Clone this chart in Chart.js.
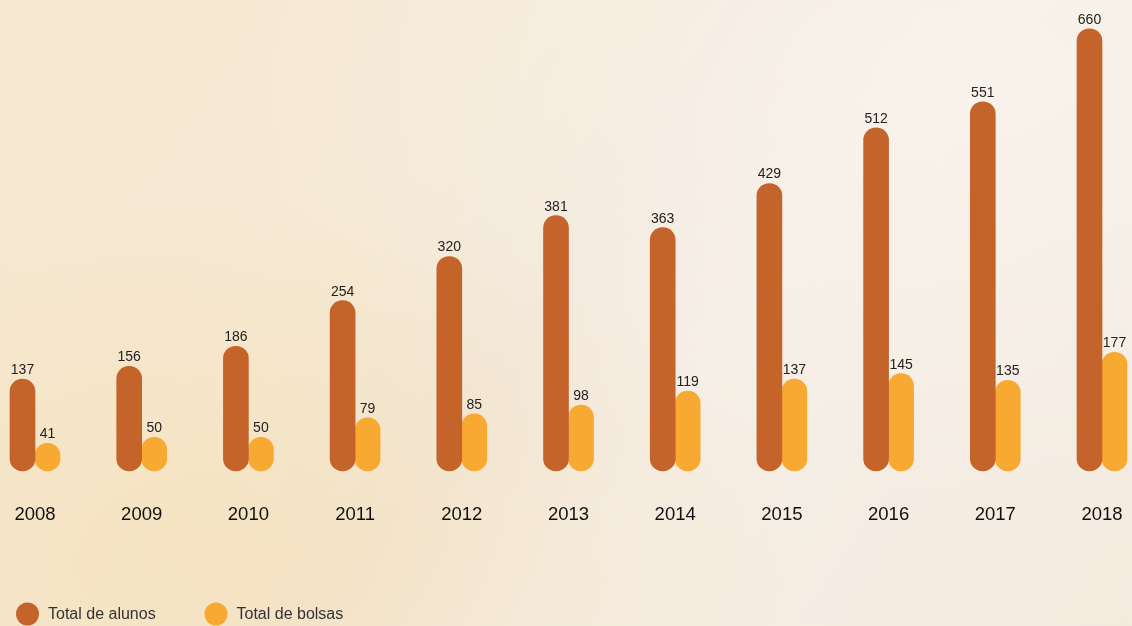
<!DOCTYPE html>
<html>
<head>
<meta charset="utf-8">
<script src="https://cdn.jsdelivr.net/npm/chart.js@4"></script>
<style>
html, body { margin:0; padding:0; }
body {
  width:1132px; height:626px; overflow:hidden;
  background:
    radial-gradient(ellipse at 20% 90%, rgba(246,218,160,0.4) 0%, rgba(246,218,160,0) 45%),
    radial-gradient(ellipse at 85% 12%, rgba(249,243,236,0.9) 0%, rgba(249,243,236,0) 55%),
    linear-gradient(125deg, #f5e8d0 0%, #f5e9d4 35%, #f2e7da 48%, #f5eee5 62%, #f4ebdf 100%);
}
canvas { display:block; }
</style>
</head>
<body>
<canvas id="chart" width="1132" height="626"></canvas>
<script>

// DATA

const years = ["2008","2009","2010","2011","2012","2013","2014","2015","2016","2017","2018"];
const totalAlunos = [137,156,186,254,320,381,363,429,512,551,660];
const totalBolsas = [41,50,50,79,85,98,119,137,145,135,177];

const darkOrange = "#c4642a";
const lightOrange = "#f8a932";
const fontFamily = "'Liberation Sans', Arial, sans-serif";


// value labels above each bar

const valueLabels = {
  id: "valueLabels",
  afterDatasetsDraw(chart) {
    const ctx = chart.ctx;
    ctx.save();
    ctx.font = "14px " + fontFamily;
    ctx.fillStyle = "#222";
    ctx.textAlign = "center";
    ctx.textBaseline = "alphabetic";
    chart.data.datasets.forEach((ds, i) => {
      chart.getDatasetMeta(i).data.forEach((bar, j) => {
        ctx.fillText(ds.data[j], bar.x, bar.y - 5);
      });
    });
    ctx.restore();
  }
};


// legend with big round markers, bottom left

const roundLegend = {
  id: "roundLegend",
  afterDraw(chart) {
    const ctx = chart.ctx;
    const xs = [27.5, 216];
    ctx.save();
    ctx.font = "16px " + fontFamily;
    ctx.textBaseline = "middle";
    ctx.textAlign = "left";
    chart.data.datasets.forEach((ds, i) => {
      ctx.fillStyle = ds.backgroundColor;
      ctx.beginPath();
      ctx.arc(xs[i], 614, 11.5, 0, Math.PI * 2);
      ctx.fill();
      ctx.fillStyle = "#333";
      ctx.fillText(ds.label, xs[i] + 20.5, 615);
    });
    ctx.restore();
  }
};


// BAR CHART

new Chart(

document.getElementById("chart"),

{

type:"bar",

data:{
  labels:years,
  datasets:[{
    label:"Total de alunos",
    data:totalAlunos,
    backgroundColor:darkOrange,
    barThickness:25,
    borderRadius:20,
    borderSkipped:false,
    clip:false
  },{
    label:"Total de bolsas",
    data:totalBolsas,
    backgroundColor:lightOrange,
    barThickness:25,
    borderRadius:20,
    borderSkipped:false,
    clip:false
  }]
},

options:{
  responsive:false,
  animation:false,
  layout:{ padding:{ top:2, left:35, right:30, bottom:96 } },
  plugins:{
    legend:{ display:false },
    tooltip:{ enabled:false }
  },
  scales:{
    x:{
      offset:false,
      // tick marks are not drawn, their length only pushes the labels down
      grid:{ display:false, drawTicks:true, tickLength:29 },
      border:{ display:false },
      ticks:{
        padding:4,
        color:"#111",
        font:{ size:18.5, family:fontFamily }
      }
    },
    y:{
      display:false,
      min:0,
      max:700
    }
  }
},

plugins:[valueLabels, roundLegend]

});

</script>
</body>
</html>
